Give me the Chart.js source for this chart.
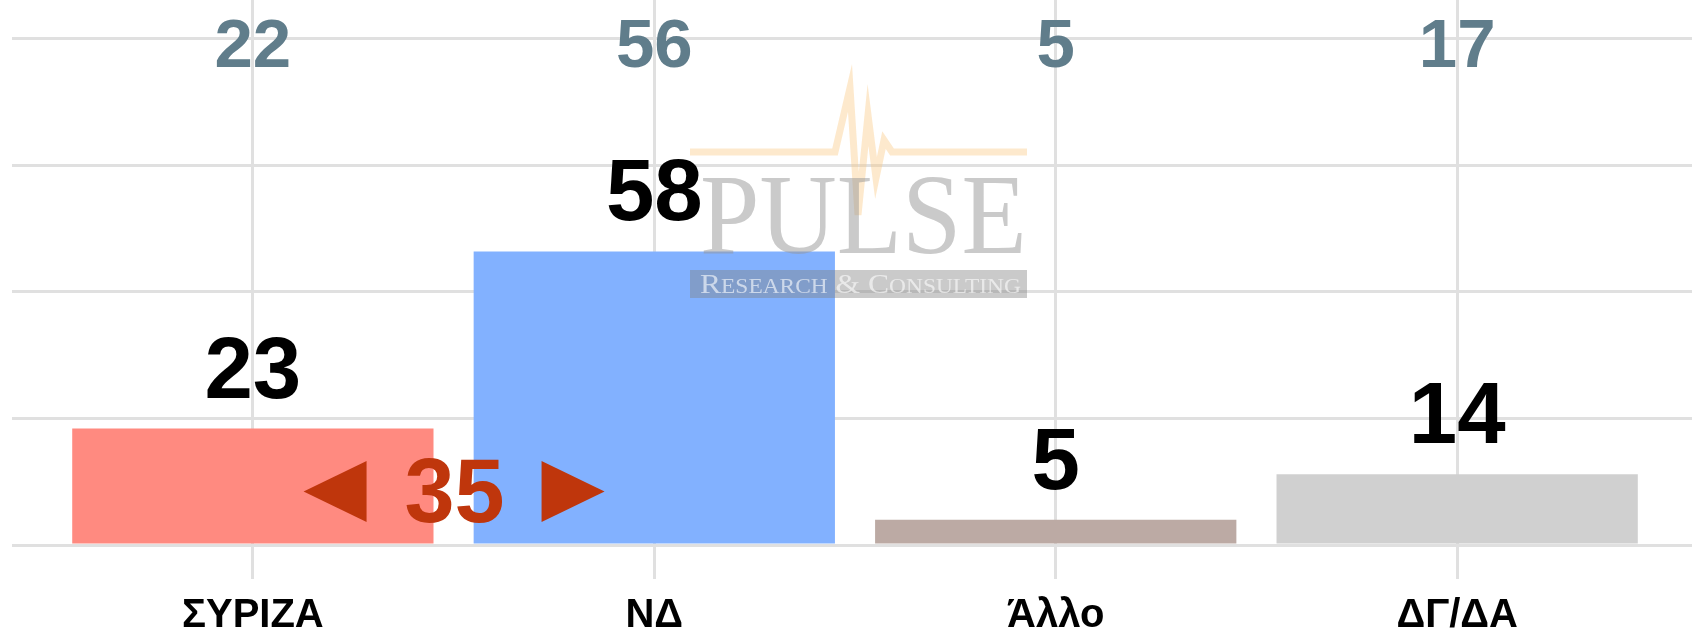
<!DOCTYPE html>
<html>
<head>
<meta charset="utf-8">
<script src="https://cdn.jsdelivr.net/npm/chart.js@4/dist/chart.umd.min.js"></script>
<style>
html,body{margin:0;padding:0;background:#fff;overflow:hidden;}
canvas{display:block;}
</style>
</head>
<body>
<canvas id="c" width="1692" height="628"></canvas>
<script>
const categories = ['ΣΥΡΙΖΑ', 'ΝΔ', 'Άλλο', 'ΔΓ/ΔΑ'];
const values = [23, 58, 5, 14];
const previousValues = [22, 56, 5, 17];
const barColors = ['#ff8a80', '#82b1ff', '#bcaaa4', '#d0d0d0'];
const yGridTicks = [0, 25, 50, 75, 100];
const gapValue = values[1] - values[0];

const FONT = '"Liberation Sans", Arial, sans-serif';
const SERIF = '"Liberation Serif", "Times New Roman", serif';

const logoPlugin = {
  id: 'logo',
  afterDatasetsDraw(chart) {
    const ctx = chart.ctx;
    ctx.save();
    // pulse line
    ctx.strokeStyle = 'rgba(250,200,130,0.4)';
    ctx.lineWidth = 7;
    ctx.lineJoin = 'miter';
    ctx.beginPath();
    ctx.moveTo(690, 152);
    ctx.lineTo(835, 152);
    ctx.lineTo(850, 88);
    ctx.lineTo(858, 215);
    ctx.lineTo(868, 115);
    ctx.lineTo(876, 178);
    ctx.lineTo(884, 140);
    ctx.lineTo(892, 152);
    ctx.lineTo(1027, 152);
    ctx.stroke();
    // PULSE
    ctx.fillStyle = 'rgba(150,150,150,0.5)';
    ctx.font = '115px ' + SERIF;
    ctx.textBaseline = 'alphabetic';
    ctx.textAlign = 'left';
    ctx.save();
    ctx.translate(700, 253);
    ctx.scale(0.93, 1);
    ctx.fillText('PULSE', 0, 0);
    ctx.restore();
    // box
    ctx.fillStyle = 'rgba(128,128,128,0.42)';
    ctx.fillRect(690, 270, 337, 28);
    ctx.fillStyle = 'rgba(255,255,255,0.6)';
    ctx.textBaseline = 'alphabetic';
    const parts = [['R',27],['ESEARCH',20],[' & ',27],['C',27],['ONSULTING',20]];
    ctx.save();
    ctx.translate(700, 293);
    ctx.scale(1.17, 1);
    let cx = 0;
    for (const [t, s] of parts) {
      ctx.font = s + 'px ' + SERIF;
      ctx.fillText(t, cx, 0);
      cx += ctx.measureText(t).width;
    }
    ctx.restore();
    ctx.restore();
  }
};

const labelPlugin = {
  id: 'labels',
  afterDraw(chart) {
    const ctx = chart.ctx;
    const meta = chart.getDatasetMeta(0);
    const xs = chart.scales.x, ys = chart.scales.y;
    ctx.save();
    ctx.textAlign = 'center';
    // value labels
    ctx.fillStyle = '#000';
    ctx.font = 'bold 87px ' + FONT;
    ctx.textBaseline = 'alphabetic';
    meta.data.forEach((bar, i) => {
      ctx.fillText(String(values[i]), bar.x, bar.y - 31);
    });
    // previous values at top
    ctx.fillStyle = '#607d8b';
    ctx.font = 'bold 69px ' + FONT;
    const topBase = ys.getPixelForValue(100) + 28;
    previousValues.forEach((v, i) => {
      ctx.fillText(String(v), xs.getPixelForValue(i), topBase);
    });
    // gap annotation
    const m = (xs.getPixelForValue(0) + xs.getPixelForValue(1)) / 2;
    const base = ys.getPixelForValue(0) - 23;
    ctx.fillStyle = '#bf360c';
    ctx.font = 'bold 90px ' + FONT;
    ctx.fillText(String(gapValue), m + 1, base);
    const top = base - 61, bot = base, mid = (top + bot) / 2;
    ctx.beginPath();
    ctx.moveTo(m - 150, mid);
    ctx.lineTo(m - 87, top);
    ctx.lineTo(m - 87, bot);
    ctx.closePath();
    ctx.fill();
    ctx.beginPath();
    ctx.moveTo(m + 151, mid);
    ctx.lineTo(m + 88, top);
    ctx.lineTo(m + 88, bot);
    ctx.closePath();
    ctx.fill();
    ctx.restore();
  }
};

new Chart(document.getElementById('c'), {
  type: 'bar',
  data: {
    datasets: [{
      data: values.map((v, i) => ({ x: i, y: v })),
      backgroundColor: barColors,
      borderWidth: 0,
      barPercentage: 0.9,
      categoryPercentage: 1.0
    }]
  },
  options: {
    responsive: false,
    animation: false,
    events: [],
    layout: { padding: { left: 12, right: 0, top: 0, bottom: 0 } },
    plugins: { legend: { display: false }, tooltip: { enabled: false } },
    scales: {
      x: {
        type: 'linear',
        min: -0.6,
        max: 3.585,
        offset: false,
        afterBuildTicks: (s) => { s.ticks = categories.map((c, i) => ({ value: i })); },
        afterFit: (s) => { s.height = 83; },
        ticks: {
          callback: (v) => categories[v],
          color: '#000',
          font: { family: FONT, size: 40, weight: 'bold' },
          padding: 13,
          maxRotation: 0,
          autoSkip: false
        },
        grid: { color: '#e0e0e0', lineWidth: 3, tickLength: 34, drawTicks: true, offset: false },
        border: { display: false }
      },
      y: {
        min: 0,
        max: 107.7,
        afterBuildTicks: (s) => { s.ticks = yGridTicks.map(v => ({ value: v })); },
        afterFit: (s) => { s.width = 0; },
        ticks: { display: false },
        grid: { color: '#e0e0e0', lineWidth: 3, drawTicks: false },
        border: { display: false }
      }
    }
  },
  plugins: [logoPlugin, labelPlugin]
});
</script>
</body>
</html>
